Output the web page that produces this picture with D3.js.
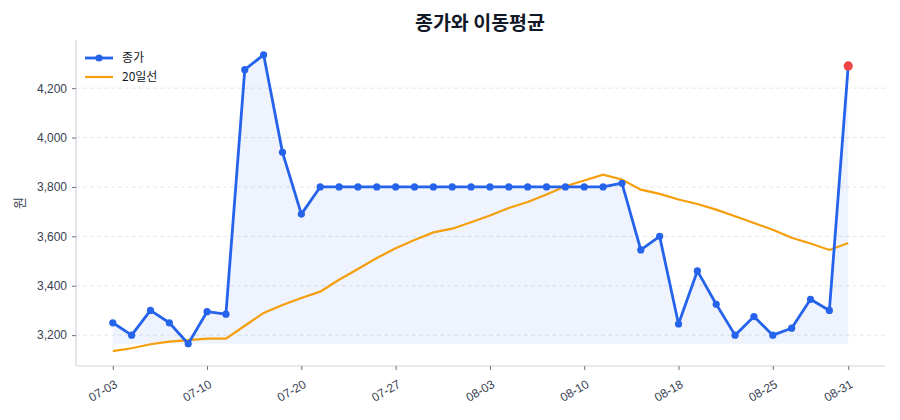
<!DOCTYPE html>
<html><head><meta charset="utf-8">
<script src="https://cdn.jsdelivr.net/npm/d3@7/dist/d3.min.js"></script>
<style>
body{margin:0;background:#fff;}
svg{display:block;font-family:"Noto Sans CJK KR","Noto Sans",sans-serif;}
</style></head>
<body><svg id="c" width="900" height="420"></svg>
<script>
const dates = ["07-03","07-04","07-07","07-08","07-09","07-10","07-11","07-14","07-16","07-18",
"07-20","07-21","07-22","07-23","07-24","07-27","07-28","07-29","07-30","08-01",
"08-03","08-04","08-05","08-06","08-08","08-10","08-11","08-13","08-14","08-15",
"08-18","08-19","08-20","08-21","08-22","08-25","08-27","08-28","08-29","08-31"];
const close = [3250,3200,3300,3250,3165,3295,3285,4275,4335,3940,
3690,3800,3800,3800,3800,3800,3800,3800,3800,3800,
3800,3800,3800,3800,3800,3800,3800,3815,3545,3600,
3245,3460,3325,3200,3275,3200,3228,3345,3300,4290];
const ma20 = [3135,3147,3163,3174,3180,3186,3186,3238,3290,3322,
3350,3376,3424,3468,3512,3552,3585,3616,3631,3657,
3684,3715,3739,3769,3803,3826,3850,3830,3789,3772,
3749,3731,3708,3681,3654,3627,3594,3571,3545,3573];
const yTicks = [3200,3400,3600,3800,4000,4200];
const xTickIdx = [0,5,10,15,20,25,30,35,39];

const svg = d3.select("#c");
const L=76, R=885, T=40, B=366;
const n = dates.length;
const pad = (n-1)*0.05;
const x = d3.scaleLinear().domain([-pad, n-1+pad]).range([L,R]);
const allV = close.concat(ma20);
const lo = d3.min(allV), hi = d3.max(allV), m=(hi-lo)*0.05;
const y = d3.scaleLinear().domain([lo-m, hi+m]).range([B,T]);

// grid
svg.append("g").selectAll("line").data(yTicks).join("line")
  .attr("x1",L).attr("x2",R).attr("y1",d=>y(d)).attr("y2",d=>y(d))
  .attr("stroke","#e5e7eb").attr("stroke-width",1).attr("stroke-dasharray","4,3");

// fill
const base = d3.min(close);
svg.append("path").datum(close)
  .attr("d", d3.area().x((d,i)=>x(i)).y0(y(base)).y1(d=>y(d)))
  .attr("fill","#2563eb").attr("fill-opacity",0.08);

// axes
const yAxis = d3.axisLeft(y).tickValues(yTicks).tickFormat(d3.format(",")).tickSize(4).tickPadding(5);
const gy = svg.append("g").attr("transform",`translate(${L},0)`).call(yAxis);
gy.select(".domain").attr("stroke","#d1d5db").attr("stroke-width",1.2).attr("d",`M0,${T}V${B}`);
gy.selectAll(".tick line").attr("stroke","#6b7280");
gy.selectAll(".tick text").attr("fill","#374151").attr("font-size",12);

const xAxis = d3.axisBottom(x).tickValues(xTickIdx).tickFormat(i=>dates[i]).tickSize(4).tickPadding(4);
const gx = svg.append("g").attr("transform",`translate(0,${B})`).call(xAxis);
gx.select(".domain").attr("stroke","#d1d5db").attr("stroke-width",1.2).attr("d",`M${L},0H${R}`);
gx.selectAll(".tick line").attr("stroke","#6b7280");
gx.selectAll(".tick text").attr("fill","#374151").attr("font-size",12)
  .attr("text-anchor","end").attr("dy","0.35em")
  .attr("transform","translate(-1,10) rotate(-30)");

// MA line
svg.append("path").datum(ma20)
  .attr("d", d3.line().x((d,i)=>x(i)).y(d=>y(d)))
  .attr("fill","none").attr("stroke","#f59e0b").attr("stroke-width",2.2);

// close line
svg.append("path").datum(close)
  .attr("d", d3.line().x((d,i)=>x(i)).y(d=>y(d)))
  .attr("fill","none").attr("stroke","#2563eb").attr("stroke-width",2.8).attr("stroke-linejoin","round");
svg.append("g").selectAll("circle").data(close.slice(0,n-1)).join("circle")
  .attr("cx",(d,i)=>x(i)).attr("cy",d=>y(d)).attr("r",3.6).attr("fill","#2563eb");
svg.append("circle").attr("cx",x(n-1)).attr("cy",y(close[n-1])).attr("r",4.6).attr("fill","#ef4444");

// title & label
svg.append("text").attr("x",480).attr("y",30).attr("text-anchor","middle")
  .attr("font-size",19.5).attr("font-weight","bold").attr("fill","#111827").text("종가와 이동평균");
svg.append("text").attr("transform",`translate(24,${(T+B)/2}) rotate(-90)`).attr("text-anchor","middle")
  .attr("font-size",13).attr("fill","#374151").text("원");

// legend
const lg = svg.append("g").attr("transform","translate(85,58)");
lg.append("line").attr("x1",0).attr("x2",28).attr("y1",0).attr("y2",0).attr("stroke","#2563eb").attr("stroke-width",2.8);
lg.append("circle").attr("cx",14).attr("cy",0).attr("r",3.6).attr("fill","#2563eb");
lg.append("text").attr("x",37).attr("y",0).attr("dy","0.35em").attr("font-size",12).attr("fill","#111827").text("종가");
lg.append("line").attr("x1",0).attr("x2",28).attr("y1",19).attr("y2",19).attr("stroke","#f59e0b").attr("stroke-width",2.2);
lg.append("text").attr("x",37).attr("y",19).attr("dy","0.35em").attr("font-size",12).attr("fill","#111827").text("20일선");
</script></body></html>
